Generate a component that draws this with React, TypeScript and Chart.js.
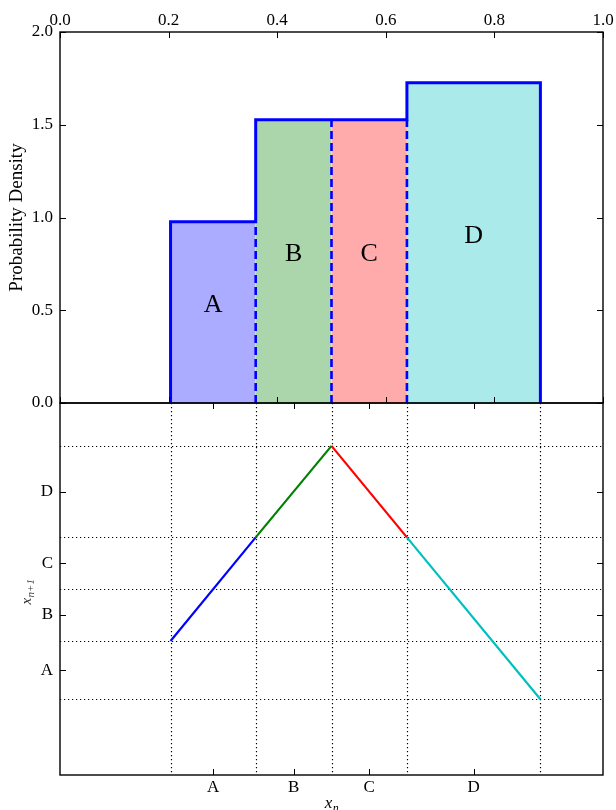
import React, { useEffect, useRef } from "react";
import { Chart, registerables } from "chart.js";
Chart.register(...registerables);

// ---- data ----
const regionLabels = ["A", "B", "C", "D"];
const boundaries = [0.2036, 0.3604, 0.5, 0.6389, 0.8847];
const densities = [0.977, 1.527, 1.527, 1.727];
const mapValues = [0.3604, 0.6389, 0.8847, 0.6389, 0.2036];
const topXTicks = [0, 0.2, 0.4, 0.6, 0.8, 1.0];
const topYTicks = [0, 0.5, 1.0, 1.5, 2.0];

// ---- styles ----
const fillColors = ["rgba(0,0,255,0.33)", "rgba(0,128,0,0.33)", "rgba(255,0,0,0.33)", "rgba(0,191,191,0.33)"];
const mapColors = ["#0000ff", "#008000", "#ff0000", "#00bfbf"];
const FONT = "'Liberation Serif', 'DejaVu Serif', serif";
const TICK_LEN = 6;
const W = 616;

const mids = regionLabels.map((_, i) => (boundaries[i] + boundaries[i + 1]) / 2);

function zeroPad(s: any) {
  s.paddingTop = 0;
  s.paddingBottom = 0;
  s.paddingLeft = 0;
  s.paddingRight = 0;
}

function drawFrame(chart: any, xTicks: number[], yTicks: number[]) {
  const { ctx, chartArea: a, scales } = chart;
  const xs = scales.x, ys = scales.y;
  ctx.save();
  ctx.strokeStyle = "#000";
  ctx.setLineDash([]);
  ctx.lineWidth = 1;
  ctx.beginPath();
  for (const v of xTicks) {
    const px = Math.round(xs.getPixelForValue(v)) + 0.5;
    ctx.moveTo(px, a.top);
    ctx.lineTo(px, a.top + TICK_LEN);
    ctx.moveTo(px, a.bottom);
    ctx.lineTo(px, a.bottom - TICK_LEN);
  }
  for (const v of yTicks) {
    const py = Math.round(ys.getPixelForValue(v)) + 0.5;
    ctx.moveTo(a.left, py);
    ctx.lineTo(a.left + TICK_LEN, py);
    ctx.moveTo(a.right, py);
    ctx.lineTo(a.right - TICK_LEN, py);
  }
  ctx.stroke();
  ctx.lineWidth = 1.4;
  ctx.strokeRect(a.left, a.top, a.right - a.left, a.bottom - a.top);
  ctx.restore();
}

function drawSubLabel(ctx: any, main: string, sub: string, cx: number, baseY: number, mainSize: number, subSize: number, subDrop: number) {
  ctx.font = `italic ${mainSize}px ${FONT}`;
  const wm = ctx.measureText(main).width;
  ctx.font = `italic ${subSize}px ${FONT}`;
  const ws = ctx.measureText(sub).width;
  const start = cx - (wm + ws) / 2;
  ctx.textAlign = "left";
  ctx.textBaseline = "alphabetic";
  ctx.font = `italic ${mainSize}px ${FONT}`;
  ctx.fillText(main, start, baseY);
  ctx.font = `italic ${subSize}px ${FONT}`;
  ctx.fillText(sub, start + wm + 0.5, baseY + subDrop);
}

const tickFont = { family: FONT, size: 17 };

export default function App() {
  const topRef = useRef<HTMLCanvasElement | null>(null);
  const botRef = useRef<HTMLCanvasElement | null>(null);

  useEffect(() => {
    // ---------- top chart: probability density ----------
    const outline: { x: number; y: number }[] = [{ x: boundaries[0], y: 0 }];
    densities.forEach((d, i) => {
      outline.push({ x: boundaries[i], y: d }, { x: boundaries[i + 1], y: d });
    });
    outline.push({ x: boundaries[boundaries.length - 1], y: 0 });

    const fillSets = densities.map((d, i) => ({
      data: [{ x: boundaries[i], y: d }, { x: boundaries[i + 1], y: d }],
      backgroundColor: fillColors[i],
      borderWidth: 0,
      borderColor: "rgba(0,0,0,0)",
      fill: "origin",
      pointRadius: 0,
      order: 3,
    }));
    const dashSets = boundaries.slice(1, -1).map((b, i) => ({
      data: [{ x: b, y: 0 }, { x: b, y: Math.min(densities[i], densities[i + 1]) }],
      borderColor: "#0000ff",
      borderWidth: 2.6,
      borderDash: [8, 4],
      fill: false,
      pointRadius: 0,
      order: 2,
    }));
    const outlineSet = {
      data: outline,
      borderColor: "#0000ff",
      borderWidth: 3,
      fill: false,
      pointRadius: 0,
      order: 1,
    };

    const topPlugin = {
      id: "topFrame",
      afterDatasetsDraw(chart: any) {
        const { ctx, scales } = chart;
        ctx.save();
        ctx.fillStyle = "#000";
        ctx.font = `26px ${FONT}`;
        ctx.textAlign = "center";
        ctx.textBaseline = "alphabetic";
        regionLabels.forEach((lab, i) => {
          ctx.fillText(lab, scales.x.getPixelForValue(mids[i]), scales.y.getPixelForValue(densities[i] / 2));
        });
        ctx.restore();
        drawFrame(chart, topXTicks, topYTicks);
      },
    };

    const top = new Chart(topRef.current as HTMLCanvasElement, {
      type: "line",
      data: { datasets: [outlineSet, ...dashSets, ...fillSets] as any },
      options: {
        animation: false,
        responsive: false,
        events: [],
        layout: { padding: { left: 0, right: 13, top: 0, bottom: 9 }, autoPadding: false },
        plugins: { legend: { display: false }, tooltip: { enabled: false } },
        scales: {
          x: {
            type: "linear",
            position: "top",
            min: 0,
            max: 1,
            grid: { display: false, drawTicks: false },
            border: { display: false },
            afterBuildTicks: (s: any) => { s.ticks = topXTicks.map((v) => ({ value: v })); },
            afterFit: (s: any) => { s.height = 32; zeroPad(s); },
            ticks: {
              font: tickFont,
              color: "#000",
              padding: 1,
              autoSkip: false,
              maxRotation: 0,
              minRotation: 0,
              callback: (v: any) => Number(v).toFixed(1),
            },
          },
          y: {
            type: "linear",
            min: 0,
            max: 2,
            grid: { display: false, drawTicks: false },
            border: { display: false },
            afterBuildTicks: (s: any) => { s.ticks = topYTicks.map((v) => ({ value: v })); },
            afterFit: (s: any) => { s.width = 60; zeroPad(s); },
            title: {
              display: true,
              text: "Probability Density",
              font: { family: FONT, size: 19 },
              color: "#000",
              padding: { top: 6, bottom: 0 },
            },
            ticks: {
              font: tickFont,
              color: "#000",
              padding: 7,
              callback: (v: any) => Number(v).toFixed(1),
            },
          },
        },
      },
      plugins: [topPlugin],
    } as any);

    // ---------- bottom chart: map ----------
    const mapSets = regionLabels.map((_, i) => ({
      data: [
        { x: boundaries[i], y: mapValues[i] },
        { x: boundaries[i + 1], y: mapValues[i + 1] },
      ],
      borderColor: mapColors[i],
      borderWidth: 2.2,
      fill: false,
      pointRadius: 0,
    }));

    const botPlugin = {
      id: "botFrame",
      beforeDatasetsDraw(chart: any) {
        const { ctx, chartArea: a, scales } = chart;
        ctx.save();
        ctx.strokeStyle = "#000";
        ctx.lineWidth = 1.2;
        ctx.setLineDash([1.2, 2.8]);
        ctx.beginPath();
        for (const b of boundaries) {
          const px = Math.round(scales.x.getPixelForValue(b)) + 0.5;
          ctx.moveTo(px, a.top);
          ctx.lineTo(px, a.bottom);
          const py = Math.round(scales.y.getPixelForValue(b)) + 0.5;
          ctx.moveTo(a.left, py);
          ctx.lineTo(a.right, py);
        }
        ctx.stroke();
        ctx.restore();
      },
      afterDatasetsDraw(chart: any) {
        const { ctx, chartArea: a } = chart;
        drawFrame(chart, mids, mids);
        ctx.save();
        ctx.fillStyle = "#000";
        drawSubLabel(ctx, "x", "n", (a.left + a.right) / 2, 428, 17, 12, 4);
        ctx.fillStyle = "#333";
        ctx.translate(31, (a.top + a.bottom) / 2 + 3);
        ctx.rotate(-Math.PI / 2);
        drawSubLabel(ctx, "x", "n+1", 0, 0, 15, 11, 3);
        ctx.restore();
      },
    };

    const bot = new Chart(botRef.current as HTMLCanvasElement, {
      type: "line",
      data: { datasets: mapSets as any },
      options: {
        animation: false,
        responsive: false,
        events: [],
        layout: { padding: { left: 0, right: 13, top: 23, bottom: 0 }, autoPadding: false },
        plugins: { legend: { display: false }, tooltip: { enabled: false } },
        scales: {
          x: {
            type: "linear",
            position: "bottom",
            min: 0,
            max: 1,
            grid: { display: false, drawTicks: false },
            border: { display: false },
            afterBuildTicks: (s: any) => { s.ticks = mids.map((v) => ({ value: v })); },
            afterFit: (s: any) => { s.height = 35; zeroPad(s); },
            ticks: {
              font: tickFont,
              color: "#000",
              padding: 2,
              autoSkip: false,
              maxRotation: 0,
              minRotation: 0,
              callback: (_v: any, i: number) => regionLabels[i],
            },
          },
          y: {
            type: "linear",
            min: 0,
            max: 1,
            grid: { display: false, drawTicks: false },
            border: { display: false },
            afterBuildTicks: (s: any) => { s.ticks = mids.map((v) => ({ value: v })); },
            afterFit: (s: any) => { s.width = 60; zeroPad(s); },
            ticks: {
              font: tickFont,
              color: "#000",
              padding: 7,
              autoSkip: false,
              callback: (_v: any, i: number) => regionLabels[i],
            },
          },
        },
      },
      plugins: [botPlugin],
    } as any);

    return () => {
      top.destroy();
      bot.destroy();
    };
  }, []);

  return (
    <div style={{ position: "absolute", left: 0, top: 0, width: W, height: 810, background: "#fff", overflow: "hidden" }}>
      <canvas ref={botRef} width={W} height={430} style={{ position: "absolute", left: 0, top: 380, display: "block" }} />
      <canvas ref={topRef} width={W} height={412} style={{ position: "absolute", left: 0, top: 0, display: "block" }} />
    </div>
  );
}
